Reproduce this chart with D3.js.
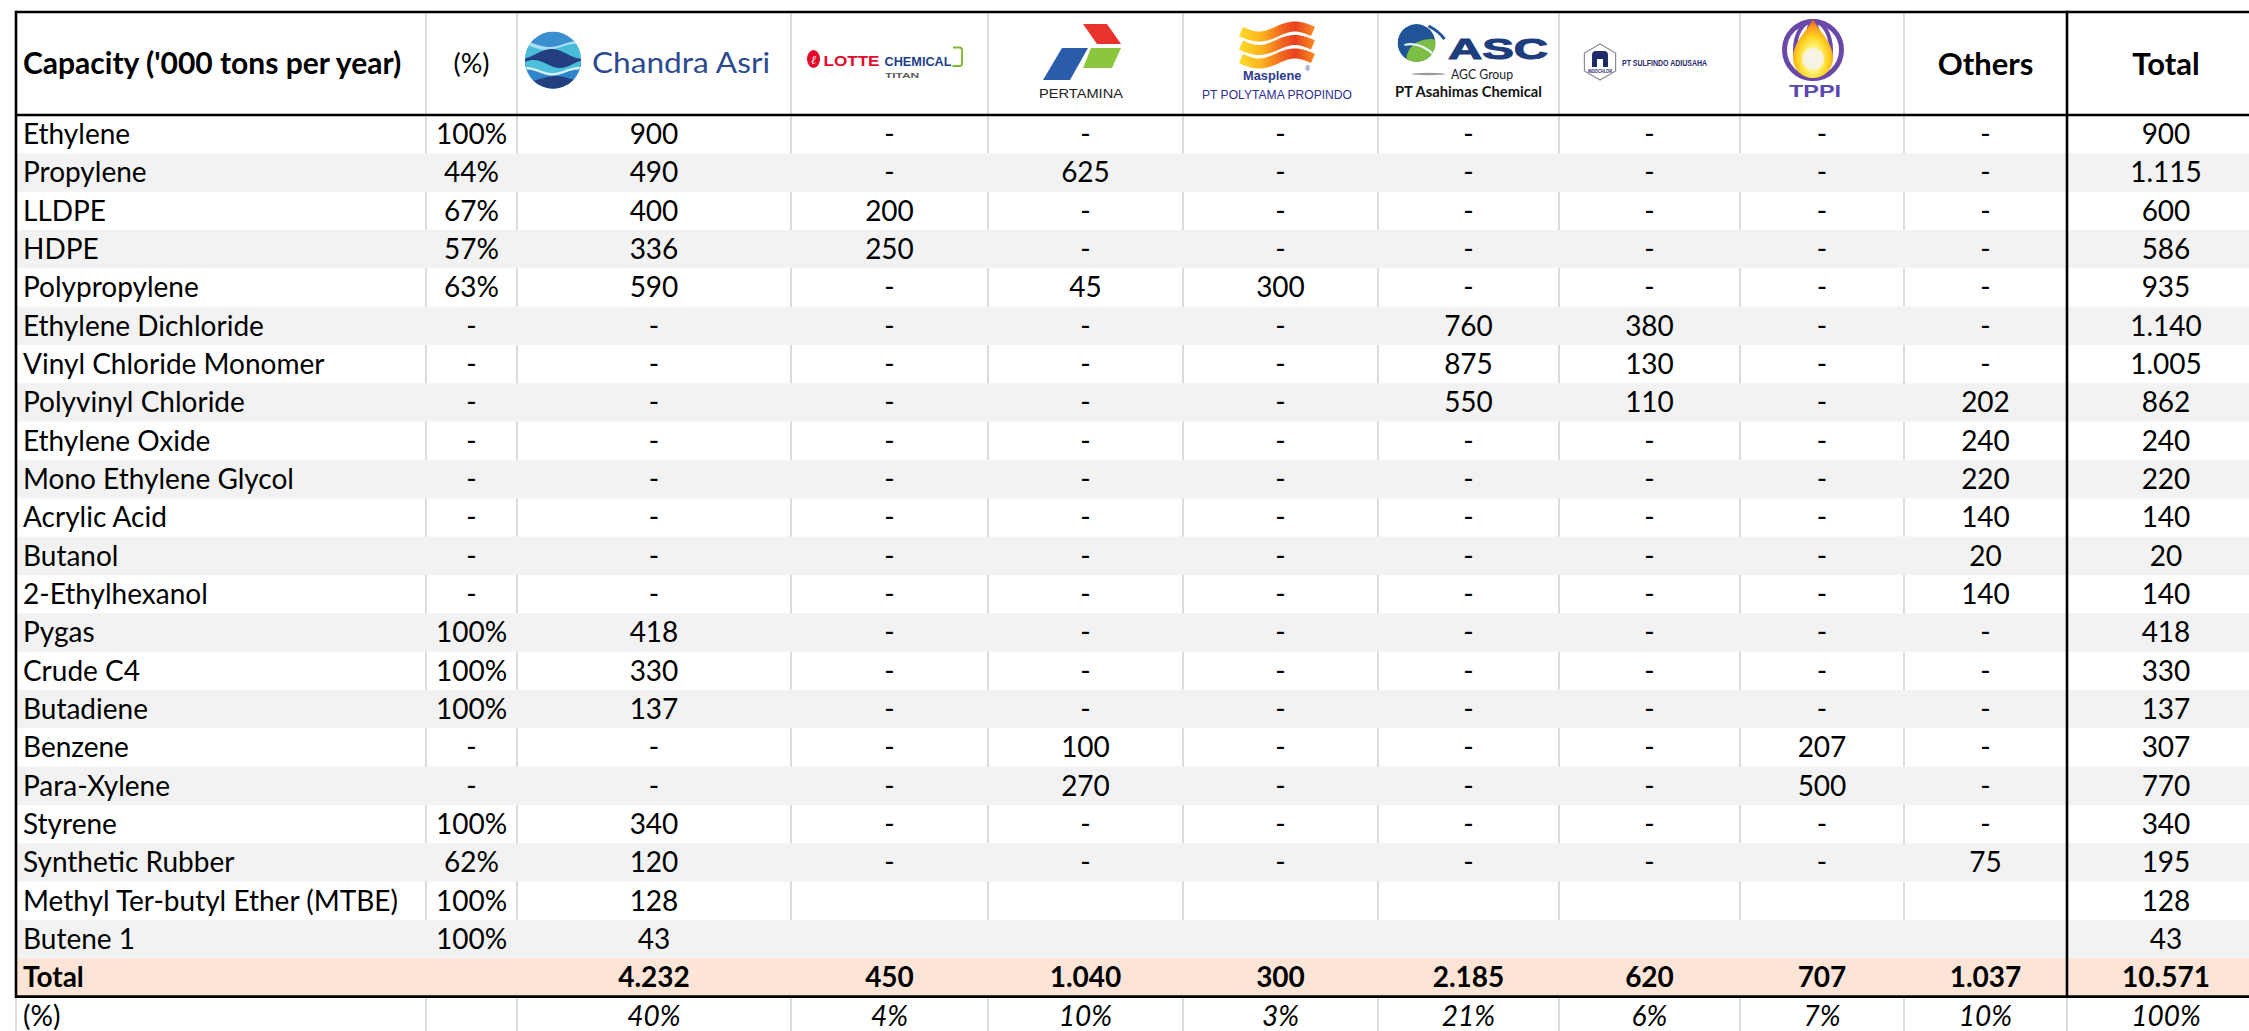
<!DOCTYPE html>
<html><head><meta charset="utf-8">
<script src="https://cdn.jsdelivr.net/npm/d3@7"></script>
<style>html,body{margin:0;padding:0;background:#fff;overflow:hidden}</style>
</head><body><svg id="chart" width="2249" height="1031"></svg>
<script>
// ---------------- DATA ----------------
const products = ["Ethylene","Propylene","LLDPE","HDPE","Polypropylene","Ethylene Dichloride","Vinyl Chloride Monomer","Polyvinyl Chloride","Ethylene Oxide","Mono Ethylene Glycol","Acrylic Acid","Butanol","2-Ethylhexanol","Pygas","Crude C4","Butadiene","Benzene","Para-Xylene","Styrene","Synthetic Rubber","Methyl Ter-butyl Ether (MTBE)","Butene 1"];
const companies = ["Chandra Asri","Lotte Chemical Titan","Pertamina","PT Polytama Propindo","PT Asahimas Chemical","PT Sulfindo Adiusaha","TPPI","Others"];
// null = "-", "" = empty cell
const chandraShare = [1.00,0.44,0.67,0.57,0.63,null,null,null,null,null,null,null,null,1.00,1.00,1.00,null,null,1.00,0.62,1.00,1.00];
const chandraAsri = [900,490,400,336,590,null,null,null,null,null,null,null,null,418,330,137,null,null,340,120,128,43];
const lotteChemicalTitan = [null,null,200,250,null,null,null,null,null,null,null,null,null,null,null,null,null,null,null,null,"",""];
const pertamina = [null,625,null,null,45,null,null,null,null,null,null,null,null,null,null,null,100,270,null,null,"",""];
const polytamaPropindo = [null,null,null,null,300,null,null,null,null,null,null,null,null,null,null,null,null,null,null,null,"",""];
const asahimasChemical = [null,null,null,null,null,760,875,550,null,null,null,null,null,null,null,null,null,null,null,null,"",""];
const sulfindoAdiusaha = [null,null,null,null,null,380,130,110,null,null,null,null,null,null,null,null,null,null,null,null,"",""];
const tppi = [null,null,null,null,null,null,null,null,null,null,null,null,null,null,null,null,207,500,null,null,"",""];
const others = [null,null,null,null,null,null,null,202,240,220,140,20,140,null,null,null,null,null,null,75,"",""];
const productTotals = [900,1115,600,586,935,1140,1005,862,240,220,140,20,140,418,330,137,307,770,340,195,128,43];
const companyTotals = [4232,450,1040,300,2185,620,707,1037];
const grandTotal = 10571;
const companyShares = [0.40,0.04,0.10,0.03,0.21,0.06,0.07,0.10];
const grandShare = 1.00;
const headerTitle = "Capacity ('000 tons per year)";

// ---------------- LAYOUT ----------------
const W = 2249, H = 1031;
const svg = d3.select("#chart");
const defs = svg.append("defs");
const FONT = "Lato, 'Open Sans', 'DejaVu Sans', sans-serif";
const ARIAL = "'Liberation Sans', Arial, sans-serif";
const locale = d3.formatLocale({decimal: ",", thousands: ".", grouping: [3], currency: ["Rp", ""]});
const fmtNum = locale.format(",d");
const fmtPct = locale.format(".0%");

const colKeys = ["label", "pct", ...companies, "Total"];
const colEdges = [16, 426, 517, 791, 988, 1183, 1378, 1559, 1740, 1904, 2067, 2265];
const x = d3.scaleOrdinal().domain(colKeys).range(colEdges.slice(0, -1));
const colW = k => colEdges[colKeys.indexOf(k) + 1] - x(k);
const colMid = k => x(k) + colW(k) / 2;

const headerTop = 12, headerBottom = 115, rowH = 38.33;
const rowKeys = [...products, "Total", "(%)"];
const y = d3.scaleBand().domain(rowKeys).range([headerBottom, headerBottom + rowH * rowKeys.length]).padding(0);
const tableBottom = y("Total") + y.bandwidth();
const grey = "#d3d3d3";

// ---------------- GRID (light) ----------------
const grid = svg.append("g");
grid.selectAll("line").data(colEdges.slice(1, -1)).join("line")
  .attr("x1", d => d).attr("x2", d => d)
  .attr("y1", headerTop).attr("y2", H)
  .attr("stroke", grey).attr("stroke-width", 1.6);
grid.append("line").attr("x1", colEdges[0]).attr("x2", colEdges[0])
  .attr("y1", tableBottom).attr("y2", H).attr("stroke", grey).attr("stroke-width", 1.6);

// ---------------- ROW FILLS ----------------
svg.append("g").selectAll("rect")
  .data(products.filter((d, i) => i % 2 === 1)).join("rect")
  .attr("x", colEdges[0]).attr("width", W - colEdges[0])
  .attr("y", d => y(d)).attr("height", y.bandwidth())
  .attr("fill", "#f2f2f2");
svg.append("rect").attr("x", colEdges[0]).attr("width", W - colEdges[0])
  .attr("y", y("Total")).attr("height", y.bandwidth()).attr("fill", "#fce4d6");

// ---------------- THICK BORDERS ----------------
const thick = svg.append("g").attr("stroke", "#000").attr("stroke-width", 2.6);
thick.append("line").attr("x1", colEdges[0]).attr("x2", W).attr("y1", headerTop).attr("y2", headerTop);
thick.append("line").attr("x1", colEdges[0]).attr("x2", W).attr("y1", headerBottom).attr("y2", headerBottom);
thick.append("line").attr("x1", colEdges[0]).attr("x2", W).attr("y1", tableBottom).attr("y2", tableBottom);
thick.append("line").attr("x1", colEdges[0]).attr("x2", colEdges[0]).attr("y1", headerTop - 1.3).attr("y2", tableBottom + 1.3);
thick.append("line").attr("x1", x("Total")).attr("x2", x("Total")).attr("y1", headerTop - 1.3).attr("y2", tableBottom + 1.3);

// ---------------- BODY CELLS ----------------
const series = [chandraAsri, lotteChemicalTitan, pertamina, polytamaPropindo, asahimasChemical, sulfindoAdiusaha, tppi, others];
const fmtCell = (v, f) => v === null ? "-" : (v === "" ? "" : f(v));
const cells = [];
products.forEach((p, i) => {
  cells.push({row: p, col: "label", text: p});
  cells.push({row: p, col: "pct", text: fmtCell(chandraShare[i], fmtPct)});
  companies.forEach((c, j) => cells.push({row: p, col: c, text: fmtCell(series[j][i], fmtNum)}));
  cells.push({row: p, col: "Total", text: fmtNum(productTotals[i])});
});
cells.push({row: "Total", col: "label", text: "Total", weight: 700});
companies.forEach((c, j) => cells.push({row: "Total", col: c, text: fmtNum(companyTotals[j]), weight: 700}));
cells.push({row: "Total", col: "Total", text: fmtNum(grandTotal), weight: 700});
cells.push({row: "(%)", col: "label", text: "(%)"});
companies.forEach((c, j) => cells.push({row: "(%)", col: c, text: fmtPct(companyShares[j]), style: "italic"}));
cells.push({row: "(%)", col: "Total", text: fmtPct(grandShare), style: "italic"});

svg.append("g").selectAll("text").data(cells.filter(d => d.text !== "")).join("text")
  .attr("x", d => d.col === "label" ? x("label") + 7 : colMid(d.col))
  .attr("y", d => y(d.row) + y.bandwidth() / 2 + 10)
  .attr("text-anchor", d => d.col === "label" ? "start" : "middle")
  .attr("font-family", FONT).attr("font-size", 28)
  .attr("font-weight", d => d.weight || 400)
  .attr("font-style", d => d.style || "normal")
  .attr("fill", "#000")
  .text(d => d.text);

// ---------------- HEADER ----------------
const hMid = (headerTop + headerBottom) / 2;
const head = svg.append("g");
head.append("text").attr("x", x("label") + 7).attr("y", hMid + 10)
  .attr("font-family", FONT).attr("font-size", 30).attr("font-weight", 700).text(headerTitle);
head.append("text").attr("x", colMid("pct")).attr("y", hMid + 9).attr("text-anchor", "middle")
  .attr("font-family", FONT).attr("font-size", 27).text("(%)");
head.append("text").attr("x", colMid("Others")).attr("y", hMid + 11).attr("text-anchor", "middle")
  .attr("font-family", FONT).attr("font-size", 31).attr("font-weight", 700).text("Others");
head.append("text").attr("x", colMid("Total")).attr("y", hMid + 11).attr("text-anchor", "middle")
  .attr("font-family", FONT).attr("font-size", 31).attr("font-weight", 700).text("Total");

const logo = c => head.append("g").attr("transform", `translate(${colMid(c)},${hMid})`);
const waveArea = (x0, x1, base, amp, k, ph, bottom) => {
  const pts = d3.range(0, 41).map(i => { const xx = x0 + (x1 - x0) * i / 40; return [xx, base + amp * Math.sin(k * xx + ph)]; });
  return "M" + pts.map(p => p.join(",")).join("L") + `L${x1},${bottom}L${x0},${bottom}Z`;
};

// Chandra Asri
{
  const g = logo("Chandra Asri");
  const cx = -101, cy = -3.5, r = 28.5;
  defs.append("clipPath").attr("id", "caClip").append("ellipse").attr("cx", cx).attr("cy", cy).attr("rx", r - 0.5).attr("ry", r);
  const eg = g.append("g").attr("clip-path", "url(#caClip)");
  eg.append("rect").attr("x", cx - r).attr("y", cy - r).attr("width", 2 * r).attr("height", 2 * r).attr("fill", "#3b8fd1");
  const bands = [[-16, 3, 0.11, 0.5, "#a9def0"], [-13, 3, 0.11, 0.8, "#49bdd8"], [-6, 5, 0.10, 2.4, "#233f82"],
                 [4, 4, 0.12, 0.3, "#4cc0da"], [10, 3, 0.12, 1.2, "#d5eef7"], [12.5, 3, 0.12, 1.2, "#2f85c9"], [19, 3, 0.1, 2.0, "#243f80"]];
  bands.forEach(([b, a, k, ph, col]) => eg.append("path").attr("d", waveArea(cx - r, cx + r, cy + b, a, k, ph, cy + r + 2)).attr("fill", col));
  g.append("text").attr("x", -62).attr("y", 9.5).attr("font-family", FONT).attr("font-size", 29)
    .attr("fill", "#2b4b8e").attr("textLength", 178).attr("lengthAdjust", "spacingAndGlyphs").text("Chandra Asri");
}

// Lotte Chemical Titan
{
  const g = logo("Lotte Chemical Titan");
  g.append("ellipse").attr("cx", -76).attr("cy", -4.5).attr("rx", 6.5).attr("ry", 9).attr("fill", "#e30b2c");
  g.append("text").attr("x", -76).attr("y", 0.5).attr("text-anchor", "middle").attr("font-family", "'DejaVu Serif', serif")
    .attr("font-style", "italic").attr("font-size", 12).attr("fill", "#fff").text("ℓ");
  g.append("text").attr("x", -66).attr("y", 2.5).attr("font-family", ARIAL).attr("font-weight", 700).attr("font-size", 14)
    .attr("fill", "#e30b2c").attr("textLength", 56).attr("lengthAdjust", "spacingAndGlyphs").text("LOTTE");
  g.append("text").attr("x", -5).attr("y", 2.5).attr("font-family", ARIAL).attr("font-weight", 700).attr("font-size", 13)
    .attr("fill", "#1d3f8c").attr("textLength", 67).attr("lengthAdjust", "spacingAndGlyphs").text("CHEMICAL");
  g.append("path").attr("d", "M63.5,-16 H70 Q72.5,-16 72.5,-13.5 V0 Q72.5,2.5 70,2.5 H63")
    .attr("fill", "none").attr("stroke", "#7ab929").attr("stroke-width", 1.8);
  g.append("text").attr("x", -4.5).attr("y", 14.5).attr("font-family", ARIAL).attr("font-weight", 700).attr("font-size", 8)
    .attr("fill", "#5c5c5c").attr("textLength", 34).attr("lengthAdjust", "spacingAndGlyphs").text("TITAN");
}

// Pertamina
{
  const g = logo("Pertamina");
  const poly = (pts, col) => g.append("polygon").attr("points", pts.map(p => p.join(",")).join(" ")).attr("fill", col);
  poly([[-2.5, -39.5], [21.5, -39.5], [35.5, -19.5], [11.5, -19.5]], "#e8322c");
  poly([[-23.5, -15.5], [2.5, -15.5], [-15.5, 16.5], [-42.5, 16.5]], "#2a5cab");
  poly([[5.5, -15.5], [35.5, -15.5], [26.5, 4.5], [-2.5, 4.5]], "#8cc63f");
  g.append("text").attr("x", -46.5).attr("y", 34.5).attr("font-family", ARIAL).attr("font-size", 13)
    .attr("fill", "#222").attr("textLength", 84).attr("lengthAdjust", "spacingAndGlyphs").text("PERTAMINA");
}

// PT Polytama Propindo (Masplene)
{
  const g = logo("PT Polytama Propindo");
  const grad = defs.append("linearGradient").attr("id", "mspGrad").attr("gradientUnits", "userSpaceOnUse")
    .attr("x1", -40).attr("x2", 33).attr("y1", 0).attr("y2", 0);
  [[0, "#ffd82a"], [0.3, "#fbb11d"], [0.55, "#f26a21"], [0.75, "#e8401f"], [1, "#f58a22"]].forEach(([o, c]) => grad.append("stop").attr("offset", o).attr("stop-color", c));
  [-32, -18.5, -5].forEach(b => {
    const pts = d3.range(0, 41).map(i => { const t = i / 40; return [-39.5 + 72 * t, b + 5 * Math.sin(2 * Math.PI * t)]; });
    g.append("path").attr("d", d3.line()(pts)).attr("fill", "none").attr("stroke", "url(#mspGrad)").attr("stroke-width", 10);
  });
  g.append("text").attr("x", -37.5).attr("y", 16.5).attr("font-family", ARIAL).attr("font-weight", 700).attr("font-size", 12.8)
    .attr("fill", "#2b3990").text("Masplene");
  g.append("text").attr("x", 24.5).attr("y", 7).attr("font-family", ARIAL).attr("font-size", 7).attr("fill", "#2b3990").text("®");
  g.append("text").attr("x", -78.5).attr("y", 35.5).attr("font-family", ARIAL).attr("font-size", 13)
    .attr("fill", "#2e3192").attr("textLength", 150).attr("lengthAdjust", "spacingAndGlyphs").text("PT POLYTAMA PROPINDO");
}

// PT Asahimas Chemical (ASC)
{
  const g = logo("PT Asahimas Chemical");
  const cx = -52, cy = -20.5, r = 19;
  defs.append("clipPath").attr("id", "ascClip").append("circle").attr("cx", cx).attr("cy", cy).attr("r", r);
  const sg = g.append("g").attr("clip-path", "url(#ascClip)");
  sg.append("circle").attr("cx", cx).attr("cy", cy).attr("r", r).attr("fill", "#1f5596");
  sg.append("ellipse").attr("cx", cx + 14).attr("cy", cy + 16).attr("rx", 24).attr("ry", 20).attr("fill", "#7cbd45");
  sg.append("path").attr("d", `M${cx - 12},${cy + 2} Q${cx + 4},${cy - 2} ${cx + 20},${cy + 14}`).attr("fill", "none").attr("stroke", "#e8f1f6").attr("stroke-width", 2.2);
  g.append("path").attr("d", `M${cx + 12},${cy - 17} Q${cx + 22},${cy - 12} ${cx + 28},${cy - 4}`).attr("fill", "none").attr("stroke", "#1f5596").attr("stroke-width", 3);
  g.append("ellipse").attr("cx", cx + 12).attr("cy", 10.5).attr("rx", 17).attr("ry", 1.2).attr("fill", "#9a9a9a");
  g.append("text").attr("x", -20.5).attr("y", -4.5).attr("font-family", ARIAL).attr("font-weight", 900).attr("font-size", 30)
    .attr("fill", "#1d3d7c").attr("stroke", "#1d3d7c").attr("stroke-width", 1).attr("textLength", 100).attr("lengthAdjust", "spacingAndGlyphs").text("ASC");
  g.append("text").attr("x", -17.5).attr("y", 15.5).attr("font-family", FONT).attr("font-size", 14)
    .attr("fill", "#1b1b2a").attr("textLength", 62).attr("lengthAdjust", "spacingAndGlyphs").text("AGC Group");
  g.append("text").attr("x", -73.5).attr("y", 33.5).attr("font-family", FONT).attr("font-weight", 700).attr("font-size", 15)
    .attr("fill", "#151515").attr("textLength", 147).attr("lengthAdjust", "spacingAndGlyphs").text("PT Asahimas Chemical");
}

// PT Sulfindo Adiusaha
{
  const g = logo("PT Sulfindo Adiusaha");
  const hx = -49.5, hy = -1.5, hr = 18;
  const hex = d3.range(6).map(i => { const a = Math.PI / 2 + i * Math.PI / 3; return [hx + hr * Math.cos(a), hy + hr * Math.sin(a)]; });
  g.append("polygon").attr("points", hex.map(p => p.join(",")).join(" ")).attr("fill", "#fff").attr("stroke", "#8a8a99").attr("stroke-width", 1.2);
  g.append("path").attr("d", `M${hx - 8},${hy + 5} V${hy - 7} Q${hx - 8},${hy - 11} ${hx - 4},${hy - 11} H${hx + 4} Q${hx + 8},${hy - 11} ${hx + 8},${hy - 7} V${hy + 5} H${hx + 3} V${hy - 3} H${hx - 3} V${hy + 5} Z`)
    .attr("fill", "#1f2a6b");
  g.append("text").attr("x", hx).attr("y", hy + 11).attr("text-anchor", "middle").attr("font-family", ARIAL).attr("font-weight", 700)
    .attr("font-size", 4.5).attr("fill", "#1f2a6b").attr("textLength", 24).attr("lengthAdjust", "spacingAndGlyphs").text("INDOCHLOR");
  g.append("text").attr("x", -27.5).attr("y", 2.5).attr("font-family", ARIAL).attr("font-weight", 700).attr("font-size", 9)
    .attr("fill", "#1f2a6b").attr("textLength", 85).attr("lengthAdjust", "spacingAndGlyphs").text("PT SULFINDO ADIUSAHA");
}

// TPPI
{
  const g = logo("TPPI");
  const cx = -9, cy = -13.5, r = 31;
  const pur = "#6a48a8";
  g.append("circle").attr("cx", cx).attr("cy", cy).attr("r", r - 2.5).attr("fill", "none").attr("stroke", pur).attr("stroke-width", 5);
  g.append("ellipse").attr("cx", cx).attr("cy", cy).attr("rx", 18).attr("ry", r - 2).attr("fill", "none").attr("stroke", pur).attr("stroke-width", 4);
  g.append("ellipse").attr("cx", cx).attr("cy", cy).attr("rx", 7).attr("ry", r - 2).attr("fill", "none").attr("stroke", pur).attr("stroke-width", 3);
  const fg = defs.append("radialGradient").attr("id", "tppiFlame").attr("cx", "50%").attr("cy", "68%").attr("r", "70%");
  [[0, "#fffbe6"], [0.3, "#fff27a"], [0.55, "#ffd21f"], [0.8, "#f79420"], [1, "#e8401f"]].forEach(([o, c]) => fg.append("stop").attr("offset", o).attr("stop-color", c));
  g.append("path").attr("d", `M${cx},${cy - 31} C${cx + 5},${cy - 20} ${cx + 20},${cy - 8} ${cx + 20},${cy + 8} A20,20 0 1 1 ${cx - 20},${cy + 8} C${cx - 20},${cy - 8} ${cx - 5},${cy - 20} ${cx},${cy - 31} Z`)
    .attr("fill", "url(#tppiFlame)");
  g.append("circle").attr("cx", cx).attr("cy", cy + 9).attr("r", 11).attr("fill", "#f4f2ee").attr("opacity", 0.85);
  g.append("text").attr("x", -33).attr("y", 33.5).attr("font-family", ARIAL).attr("font-weight", 900).attr("font-size", 17)
    .attr("fill", "#5a46b0").attr("textLength", 52).attr("lengthAdjust", "spacingAndGlyphs").text("TPPI");
}
</script>
</body></html>
